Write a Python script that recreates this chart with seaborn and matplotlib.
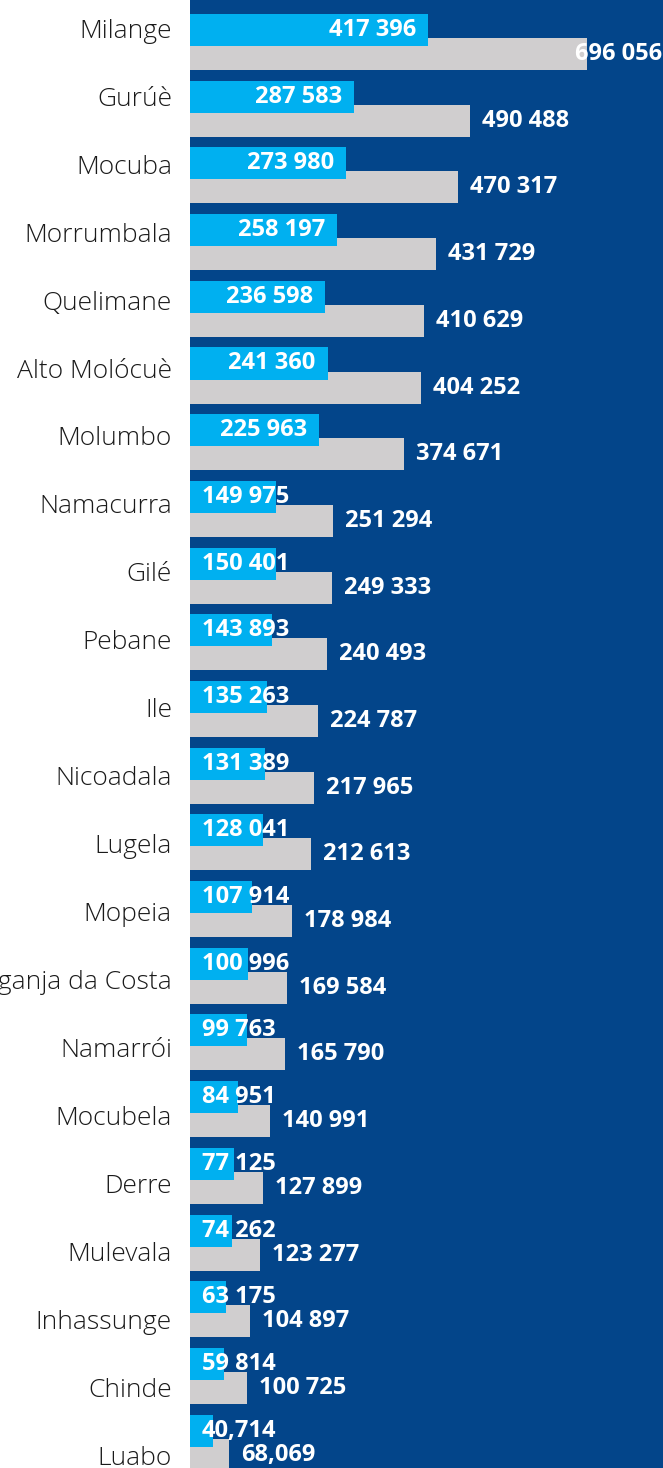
import matplotlib
matplotlib.use("Agg")
import matplotlib.pyplot as plt
import seaborn as sns
import pandas as pd

districts = ["Milange", "Gurúè", "Mocuba", "Morrumbala", "Quelimane", "Alto Molócuè",
             "Molumbo", "Namacurra", "Gilé", "Pebane", "Ile", "Nicoadala", "Lugela",
             "Mopeia", "Maganja da Costa", "Namarrói", "Mocubela", "Derre", "Mulevala",
             "Inhassunge", "Chinde", "Luabo"]
series_a = [417396, 287583, 273980, 258197, 236598, 241360, 225963, 149975, 150401,
            143893, 135263, 131389, 128041, 107914, 100996, 99763, 84951, 77125,
            74262, 63175, 59814, 40714]
series_b = [696056, 490488, 470317, 431729, 410629, 404252, 374671, 251294, 249333,
            240493, 224787, 217965, 212613, 178984, 169584, 165790, 140991, 127899,
            123277, 104897, 100725, 68069]
separators = [" "] * 21 + [","]

BG = "#03458A"
BLUE = "#00B0F0"
GRAY = "#D0CECF"

df = pd.DataFrame({
    "district": districts * 2,
    "value": series_a + series_b,
    "series": ["A"] * len(districts) + ["B"] * len(districts),
})

sns.set_theme(style="white")
plt.rcParams["font.family"] = ["Open Sans", "DejaVu Sans"]

fig = plt.figure(figsize=(6.63, 14.68), dpi=100)
fig.patch.set_facecolor("white")
ax = fig.add_axes([190 / 663, 0, 1 - 190 / 663, 1])
ax.set_facecolor(BG)

sns.barplot(data=df, y="district", x="value", hue="series", order=districts,
            hue_order=["A", "B"], palette=[BLUE, GRAY], width=0.72, dodge=True,
            orient="h", ax=ax, legend=False, saturation=1, linewidth=0)

# widen bars so they overlap slightly, blue on top
for ci, cont in enumerate(ax.containers):
    for p in cont:
        c = p.get_y() + p.get_height() / 2
        p.set_height(0.48)
        p.set_y(c - 0.24)
        p.set_zorder(3 if ci == 0 else 2)

ax.set_xlim(0, 829300)
ax.set_ylim(21.38, -0.63)
for s in ax.spines.values():
    s.set_visible(False)
ax.set_xlabel("")
ax.set_ylabel("")
ax.set_xticks([])
ax.set_yticks([])

# category labels: slightly different spacing than the bar groups (as in the reference)
a_off, b_sc = -0.21, 1.0195
sec = ax.secondary_yaxis("left", functions=(lambda y: (y - a_off) / b_sc,
                                            lambda s: a_off + b_sc * s))
sec.set_yticks(range(len(districts)))
sec.set_yticklabels(districts, fontsize=19, fontweight="light", color="#1a1a1a")
sec.tick_params(axis="y", length=0, pad=13)
sec.spines["left"].set_visible(False)

fig.canvas.draw()
renderer = fig.canvas.get_renderer()
inv = ax.transData.inverted()
x0_px = ax.transData.transform((0, 0))[0]
right_px = ax.transAxes.transform((1, 0))[0]
pad = 12


def fmt(v, sep):
    return f"{v:,}".replace(",", sep)


for ci, cont in enumerate(ax.containers):
    vals = series_a if ci == 0 else series_b
    for i, p in enumerate(cont):
        v = vals[i]
        yc = p.get_y() + p.get_height() / 2
        t = ax.text(0, yc, fmt(v, separators[i]), color="white", fontsize=17,
                    fontweight="bold", va="center", ha="left", zorder=5)
        w = t.get_window_extent(renderer).width
        end_px = ax.transData.transform((p.get_width(), yc))[0]
        if ci == 0:
            if end_px - pad - w >= x0_px + pad:
                xs = end_px - pad - w
            else:
                xs = x0_px + pad
        else:
            xs = end_px + pad
            if xs + w > right_px - 1:
                xs = right_px - 1 - w
        t.set_x(inv.transform((xs, 0))[0])

fig.savefig("out.png", dpi=100, facecolor="white")
